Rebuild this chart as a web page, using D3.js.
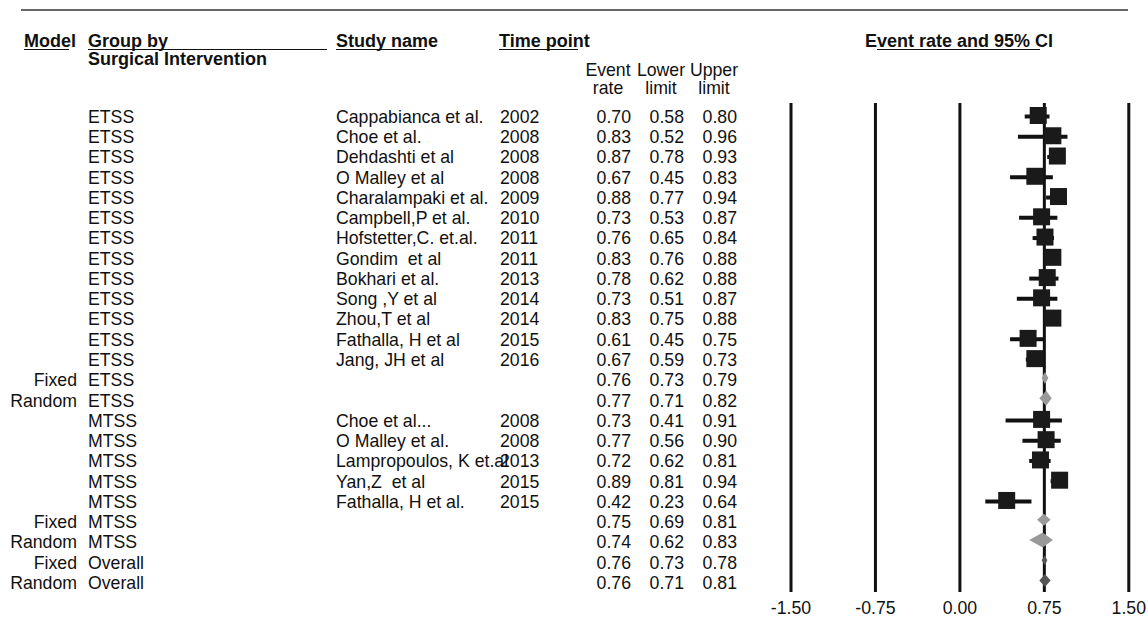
<!DOCTYPE html>
<html>
<head>
<meta charset="utf-8">
<script src="https://cdn.jsdelivr.net/npm/d3@7"></script>
<style>
  body { margin: 0; background: #fff; }
  svg { font-family: "Liberation Sans", Arial, sans-serif; }
  text { white-space: pre; }
</style>
</head>
<body>
<div id="chart"></div>
<script>
// rows of the forest plot, top to bottom
const models = ['', '', '', '', '', '', '', '', '', '', '', '', '', 'Fixed', 'Random',
  '', '', '', '', '', 'Fixed', 'Random', 'Fixed', 'Random'];
const groups = ['ETSS', 'ETSS', 'ETSS', 'ETSS', 'ETSS', 'ETSS', 'ETSS', 'ETSS', 'ETSS', 'ETSS',
  'ETSS', 'ETSS', 'ETSS', 'ETSS', 'ETSS', 'MTSS', 'MTSS', 'MTSS', 'MTSS', 'MTSS', 'MTSS', 'MTSS',
  'Overall', 'Overall'];
const studies = ['Cappabianca et al.', 'Choe et al.', 'Dehdashti et al', 'O Malley et al',
  'Charalampaki et al.', 'Campbell,P et al.', 'Hofstetter,C. et.al.', 'Gondim  et al',
  'Bokhari et al.', 'Song ,Y et al', 'Zhou,T et al', 'Fathalla, H et al', 'Jang, JH et al',
  '', '', 'Choe et al...', 'O Malley et al.', 'Lampropoulos, K et.al', 'Yan,Z  et al',
  'Fathalla, H et al.', '', '', '', ''];
const years = ['2002', '2008', '2008', '2008', '2009', '2010', '2011', '2011', '2013', '2014',
  '2014', '2015', '2016', '', '', '2008', '2008', '2013', '2015', '2015', '', '', '', ''];
const rates = [0.70, 0.83, 0.87, 0.67, 0.88, 0.73, 0.76, 0.83, 0.78, 0.73, 0.83, 0.61, 0.67,
  0.76, 0.77, 0.73, 0.77, 0.72, 0.89, 0.42, 0.75, 0.74, 0.76, 0.76];
const lowers = [0.58, 0.52, 0.78, 0.45, 0.77, 0.53, 0.65, 0.76, 0.62, 0.51, 0.75, 0.45, 0.59,
  0.73, 0.71, 0.41, 0.56, 0.62, 0.81, 0.23, 0.69, 0.62, 0.73, 0.71];
const uppers = [0.80, 0.96, 0.93, 0.83, 0.94, 0.87, 0.84, 0.88, 0.88, 0.87, 0.88, 0.75, 0.73,
  0.79, 0.82, 0.91, 0.90, 0.81, 0.94, 0.64, 0.81, 0.83, 0.78, 0.81];
const axisTicks = [-1.5, -0.75, 0, 0.75, 1.5];

const rows = rates.map((r, i) => ({
  i: i, model: models[i], group: groups[i], study: studies[i], year: years[i],
  rate: r, lower: lowers[i], upper: uppers[i]
}));

const width = 1148, height = 642;
const fs = 17.7;

const svg = d3.select('#chart').append('svg')
  .attr('width', width)
  .attr('height', height);

const x = d3.scaleLinear().domain([-1.5, 1.5]).range([790.5, 1128.3]);
const y = d3.scalePoint().domain(d3.range(rows.length)).range([116.5, 582.5]);
// plain hyphen for negatives, like the source
const fmt = d3.formatLocale({ decimal: '.', thousands: ',', grouping: [3], currency: ['', ''], minus: '-' }).format('.2f');

// top rule
svg.append('line')
  .attr('x1', 21).attr('x2', 1128).attr('y1', 10).attr('y2', 10)
  .attr('stroke', '#333').attr('stroke-width', 1.5);

// headers
const headers = [
  { t: 'Model', x: 24, y: 47, u: [24, 69] },
  { t: 'Group by', x: 88, y: 47, u: [88, 327] },
  { t: 'Surgical Intervention', x: 88, y: 65 },
  { t: 'Study name', x: 336, y: 47, u: [336, 425] },
  { t: 'Time point', x: 499, y: 47, u: [499, 578] },
  { t: 'Event rate and 95% CI', x: 865, y: 47, u: [877, 1040] }
];
svg.append('g').selectAll('text')
  .data(headers)
  .enter()
  .append('text')
  .attr('x', d => d.x)
  .attr('y', d => d.y)
  .attr('font-size', 18)
  .attr('font-weight', 'bold')
  .attr('fill', '#111')
  .text(d => d.t);
svg.append('g').selectAll('line')
  .data(headers.filter(d => d.u))
  .enter()
  .append('line')
  .attr('x1', d => d.u[0]).attr('x2', d => d.u[1])
  .attr('y1', 49.5).attr('y2', 49.5)
  .attr('stroke', '#111').attr('stroke-width', 1.2);

// stat column headers
const statCols = [
  { l1: 'Event', l2: 'rate', cx: 608, rx: 631, key: 'rate' },
  { l1: 'Lower', l2: 'limit', cx: 661, rx: 684, key: 'lower' },
  { l1: 'Upper', l2: 'limit', cx: 714, rx: 737, key: 'upper' }
];
statCols.forEach(c => {
  svg.append('text').attr('x', c.cx).attr('y', 76).attr('text-anchor', 'middle')
    .attr('font-size', fs).attr('fill', '#111').text(c.l1);
  svg.append('text').attr('x', c.cx).attr('y', 94).attr('text-anchor', 'middle')
    .attr('font-size', fs).attr('fill', '#111').text(c.l2);
});

// table rows
const tbl = svg.append('g').attr('font-size', fs).attr('fill', '#111');
const rowG = tbl.selectAll('g')
  .data(rows)
  .enter()
  .append('g')
  .attr('transform', d => 'translate(0,' + y(d.i) + ')');
rowG.append('text').attr('x', 77).attr('dy', '0.36em').attr('text-anchor', 'end').text(d => d.model);
rowG.append('text').attr('x', 88).attr('dy', '0.36em').text(d => d.group);
rowG.append('text').attr('x', 336).attr('dy', '0.36em').text(d => d.study);
rowG.append('text').attr('x', 500).attr('dy', '0.36em').text(d => d.year);
statCols.forEach(c => {
  rowG.append('text').attr('x', c.rx).attr('dy', '0.36em').attr('text-anchor', 'end')
    .text(d => fmt(d[c.key]));
});

// axis with full-height grid lines
const axisY = 592;
const axis = svg.append('g')
  .attr('transform', 'translate(0,' + axisY + ')')
  .call(d3.axisBottom(x).tickValues(axisTicks).tickSize(-(axisY - 103)).tickPadding(9).tickFormat(fmt));
axis.select('.domain').remove();
axis.selectAll('.tick line').attr('stroke', '#111').attr('stroke-width', 3);
axis.selectAll('.tick text').attr('font-size', fs).attr('fill', '#111')
  .attr('font-family', '"Liberation Sans", Arial, sans-serif');

// study boxes with CI whiskers
const studiesRows = rows.filter(d => d.model === '');
const plot = svg.append('g');
plot.selectAll('line.ci')
  .data(studiesRows)
  .enter()
  .append('line')
  .attr('class', 'ci')
  .attr('x1', d => x(d.lower)).attr('x2', d => x(d.upper))
  .attr('y1', d => y(d.i)).attr('y2', d => y(d.i))
  .attr('stroke', '#111').attr('stroke-width', 4);
const box = 17;
plot.selectAll('rect')
  .data(studiesRows)
  .enter()
  .append('rect')
  .attr('x', d => x(d.rate) - box / 2)
  .attr('y', d => y(d.i) - box / 2 - 1)
  .attr('width', box).attr('height', box)
  .attr('fill', '#1a1a1a');

// summary diamonds
const summaryRows = rows.filter(d => d.model !== '');
plot.selectAll('path')
  .data(summaryRows)
  .enter()
  .append('path')
  .attr('d', d => {
    const overall = d.group === 'Overall';
    const h = (d.model === 'Fixed' ? 12 : 15) - (overall ? 2 : 0);
    const cy = y(d.i) - 2;
    return 'M' + x(d.lower) + ',' + cy +
      'L' + x(d.rate) + ',' + (cy - h / 2) +
      'L' + x(d.upper) + ',' + cy +
      'L' + x(d.rate) + ',' + (cy + h / 2) + 'Z';
  })
  .attr('fill', d => d.group === 'Overall' ? '#555' : '#999');
</script>
</body>
</html>
